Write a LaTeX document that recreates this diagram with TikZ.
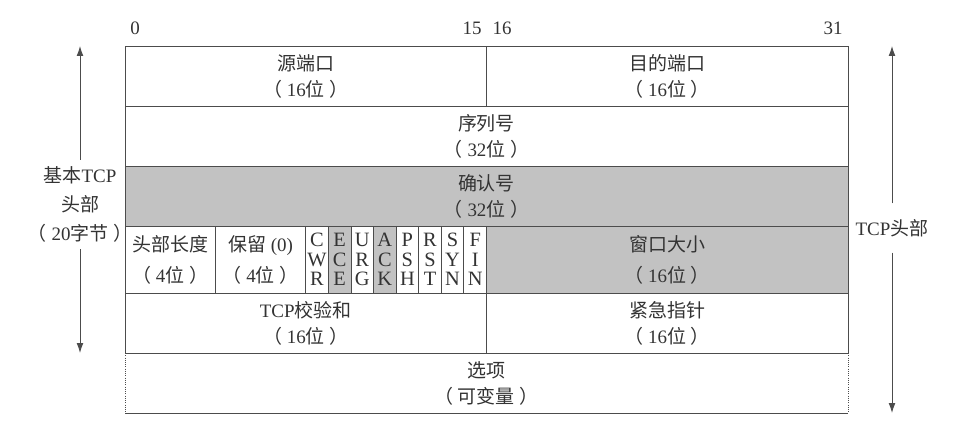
\documentclass[tikz,border=0pt]{standalone}
\usepackage{fontspec}
\setmainfont{Liberation Serif}
\newfontfamily\cjk{Noto Sans CJK SC}
\usetikzlibrary{arrows.meta,positioning}
\tikzset{>={Latex[length=2.5mm,width=1.7mm]}}
\usepackage{xcolor}
\definecolor{rule}{gray}{0.3}
\definecolor{shade}{gray}{0.76}
\definecolor{ink}{gray}{0.2}
\newcommand{\zh}[1]{{\cjk #1}}
\newcommand{\paren}[1]{\zh{（}\hspace{0.25em}#1\hspace{0.25em}\zh{）}}
\newcommand{\wei}[1]{\paren{#1\zh{位}}}
\newlength{\bw}\setlength{\bw}{0.5648cm}

\begin{document}
\begin{tikzpicture}
	[inner sep=0pt, outer sep=0pt, text=ink,
	font=\fontsize{13.5}{18.5}\selectfont,
	field/.style={draw=rule, line width=0.6pt, minimum height=1.5cm, align=center},
	tall/.style={field, minimum height=1.675cm, font=\fontsize{13.5}{22}\selectfont},
	flag/.style={tall, minimum width=\bw, font=\fontsize{14.5}{14}\selectfont},
	shaded/.style={fill=shade},
	side/.style={align=center, inner sep=5pt},
	link/.style={draw=rule, line width=0.6pt}]
	
	\useasboundingbox (0,0) rectangle (24,10.65);
	
	% bit positions
	\node (bit_zero)    at (3.375,9.95)  {0};
	\node (bit_fifteen) at (11.8,9.95)   {15};
	\node (bit_sixteen) at (12.55,9.95)  {16};
	\node (bit_last)    at (20.825,9.95) {31};
	
	% header fields
	\node[field, minimum width=16*\bw, anchor=north west] (src_port) at (3.125,9.5) {\zh{源端口}\\\wei{16}};
	\node[field, minimum width=16*\bw, right=0pt of src_port]                        (dst_port) {\zh{目的端口}\\\wei{16}};
	\node[field, minimum width=32*\bw, below=0pt of src_port.south west, anchor=north west] (seq_no) {\zh{序列号}\\\wei{32}};
	\node[field, shaded, minimum width=32*\bw, below=0pt of seq_no.south west, anchor=north west] (ack_no) {\zh{确认号}\\\wei{32}};
	
	\node[tall, minimum width=4*\bw, below=0pt of ack_no.south west, anchor=north west] (hdr_len) {\zh{头部长度}\\\wei{4}};
	\node[tall, minimum width=4*\bw, right=0pt of hdr_len]  (reserved) {\zh{保留} (0)\\\wei{4}};
	\node[flag, right=0pt of reserved]                      (flag_cwr) {C\\W\\R};
	\node[flag, shaded, right=0pt of flag_cwr]              (flag_ece) {E\\C\\E};
	\node[flag, right=0pt of flag_ece]                      (flag_urg) {U\\R\\G};
	\node[flag, shaded, right=0pt of flag_urg]              (flag_ack) {A\\C\\K};
	\node[flag, right=0pt of flag_ack]                      (flag_psh) {P\\S\\H};
	\node[flag, right=0pt of flag_psh]                      (flag_rst) {R\\S\\T};
	\node[flag, right=0pt of flag_rst]                      (flag_syn) {S\\Y\\N};
	\node[flag, right=0pt of flag_syn]                      (flag_fin) {F\\I\\N};
	\node[tall, shaded, minimum width=16*\bw, right=0pt of flag_fin] (win_size) {\zh{窗口大小}\\\wei{16}};
	
	\node[field, minimum width=16*\bw, below=0pt of hdr_len.south west, anchor=north west] (checksum) {TCP\zh{校验和}\\\wei{16}};
	\node[field, minimum width=16*\bw, right=0pt of checksum]  (urg_ptr) {\zh{紧急指针}\\\wei{16}};
	\node[minimum width=32*\bw, minimum height=1.5cm, align=center, below=0pt of checksum.south west, anchor=north west] (options) {\zh{选项}\\\paren{\zh{可变量}}};
	\draw[link] (options.south west) -- (options.south east);
	\draw[link, densely dotted] (options.north west) -- (options.south west);
	\draw[link, densely dotted] (options.north east) -- (options.south east);
	
	% header length marks
	\node[side, font=\fontsize{13.5}{20.5}\selectfont] (base_hdr) at (2.0,5.54) {\zh{基本}TCP\\\zh{头部}\\\paren{20\zh{字节}}};
	\coordinate (base_top) at (base_hdr |- src_port.north);
	\coordinate (base_bot) at (base_hdr |- checksum.south);
	\node[side, inner ysep=0.4cm] (tcp_hdr) at (22.3,4.95) {TCP\zh{头部}};
	\coordinate (tcp_top) at (tcp_hdr |- src_port.north);
	\coordinate (tcp_bot) at (tcp_hdr |- options.south);
	
	\draw [->, link] (base_hdr) to (base_top);
	\draw [->, link] (base_hdr) to (base_bot);
	\draw [->, link] (tcp_hdr)  to (tcp_top);
	\draw [->, link] (tcp_hdr)  to (tcp_bot);
\end{tikzpicture}
\end{document}
